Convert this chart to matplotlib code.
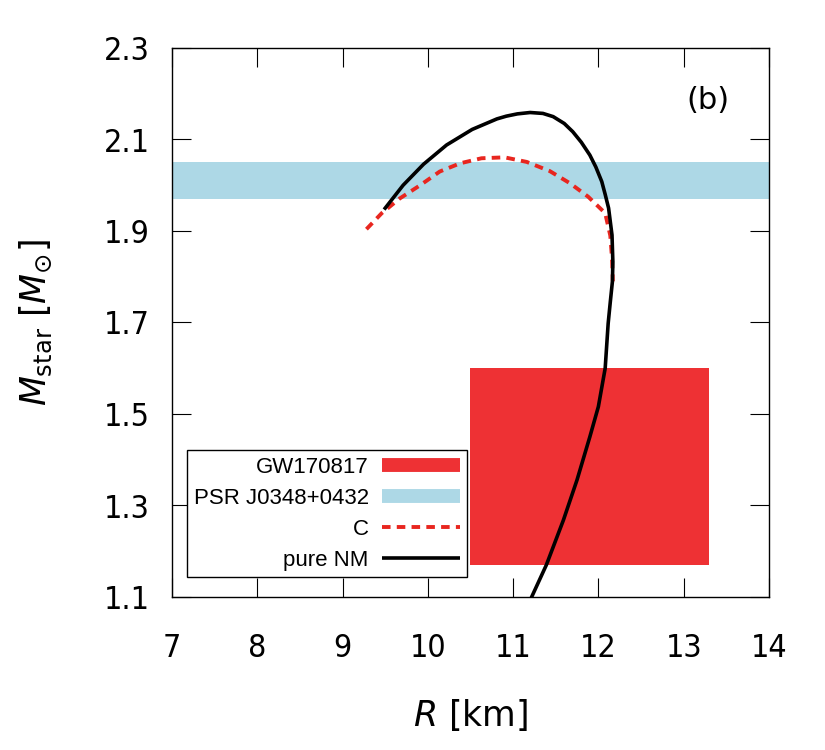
import numpy as np
import matplotlib.pyplot as plt
from matplotlib.lines import Line2D

plt.rcParams['mathtext.fontset'] = 'dejavusans'

# pure NM curve (R [km], M [Msun])
R_nm = [9.50, 9.71, 9.95, 10.22, 10.52, 10.81, 10.92, 11.05, 11.20, 11.35, 11.47,
        11.60, 11.70, 11.80, 11.90, 11.97, 12.04, 12.08, 12.12, 12.16, 12.17,
        12.165, 12.14, 12.115, 12.08, 12.00, 11.90, 11.75, 11.59, 11.39, 11.22]
M_nm = [1.950, 2.000, 2.046, 2.088, 2.122, 2.145, 2.151, 2.156, 2.159, 2.157, 2.150,
        2.135, 2.117, 2.094, 2.066, 2.040, 2.008, 1.980, 1.950, 1.891, 1.833,
        1.790, 1.745, 1.698, 1.600, 1.516, 1.450, 1.356, 1.268, 1.170, 1.101]

# C curve
R_c = [9.28, 9.46, 9.67, 9.91, 10.14, 10.38, 10.63, 10.90, 11.16, 11.43, 11.67,
       11.88, 12.08, 12.14, 12.16, 12.17]
M_c = [1.904, 1.939, 1.971, 2.000, 2.030, 2.048, 2.059, 2.061, 2.051, 2.031, 2.004,
       1.975, 1.939, 1.890, 1.840, 1.790]

# constraints
gw_R = (10.5, 13.3)
gw_M = (1.17, 1.60)
psr_M = (1.97, 2.05)

red = '#ee3134'
blue = '#add8e6'
dash = '#e8261f'

fig = plt.figure(figsize=(8.25, 7.5), dpi=100)
ax = fig.add_axes([0.2085, 0.204, 0.7235, 0.732])

ax.axhspan(psr_M[0], psr_M[1], color=blue, lw=0, zorder=1)
ax.fill_between(gw_R, gw_M[0], gw_M[1], color=red, lw=0, zorder=1)
ax.plot(R_c, M_c, color=dash, lw=2.8, ls=(0, (2.2, 1.6)), zorder=2)
ax.plot(R_nm, M_nm, color='black', lw=2.6, zorder=3, solid_joinstyle='round')

ax.set_xlim(7, 14)
ax.set_ylim(1.1, 2.3)
ax.set_xticks(np.arange(7, 15, 1))
ax.set_yticks([1.1, 1.3, 1.5, 1.7, 1.9, 2.1, 2.3])
ax.set_yticklabels(['1.1', '1.3', '1.5', '1.7', '1.9', '2.1', '2.3'])
ax.tick_params(direction='in', length=14, width=0.8, top=True, right=True,
               labelsize=23)
ax.tick_params(axis='x', pad=26)
ax.tick_params(axis='y', pad=16)
for lab in ax.get_xticklabels() + ax.get_yticklabels():
    lab.set_fontstretch('condensed')
for s in ax.spines.values():
    s.set_linewidth(1.0)

ax.set_xlabel(r'$R$ [km]', fontsize=25, labelpad=24)
ax.set_ylabel(r'$M_{\mathrm{star}}$ [$M_{\odot}$]', fontsize=25, labelpad=36)

ax.text(13.28, 2.186, '(b)', fontsize=22, ha='center', va='center')

handles = [Line2D([], [], color=red, lw=10, solid_capstyle='butt'),
           Line2D([], [], color=blue, lw=10, solid_capstyle='butt'),
           Line2D([], [], color=dash, lw=2.8, ls=(0, (2.2, 1.6))),
           Line2D([], [], color='black', lw=2.6, solid_capstyle='butt')]
labels = ['GW170817', 'PSR J0348+0432', 'C', 'pure NM']
leg = ax.legend(handles, labels, loc='lower left', bbox_to_anchor=(0.025, 0.036),
                markerfirst=False, fancybox=False, framealpha=1,
                edgecolor='black', prop={'family': 'Liberation Sans', 'size': 16},
                handlelength=3.5, borderpad=0.3, labelspacing=0.45,
                handletextpad=0.6, borderaxespad=0)
leg.get_frame().set_linewidth(1.0)
leg.set_zorder(5)

fig.savefig('out.png', dpi=100)
